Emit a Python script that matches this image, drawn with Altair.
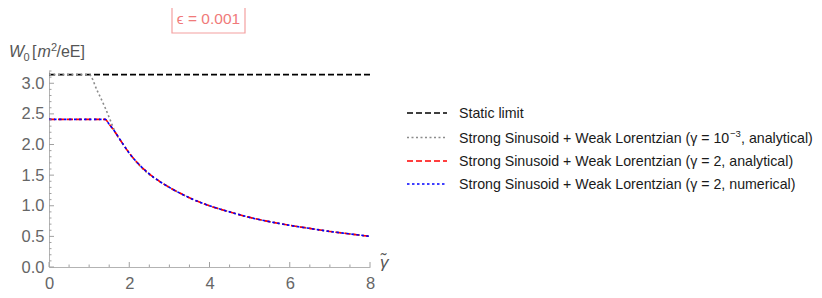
import altair as alt
import pandas as pd

# ---- data ----
static_x = [0.0, 8.0]
static_y = [3.14159, 3.14159]

gray_x = [0.0, 1.0, 1.2, 1.4, 1.55, 1.65, 1.8, 2.0, 2.25, 2.5, 2.75, 3.0, 3.5, 4.0, 4.5, 5.0, 5.5, 6.0, 6.5, 7.0, 7.5, 8.0]
gray_y = [3.14159, 3.14159, 2.88, 2.60, 2.36, 2.20, 2.05, 1.86, 1.66, 1.51, 1.40, 1.30, 1.13, 1.00, 0.90, 0.81, 0.74, 0.68, 0.63, 0.58, 0.54, 0.50]

red_x = [0.0, 1.40, 1.5, 1.65, 1.8, 2.0, 2.25, 2.5, 2.75, 3.0, 3.5, 4.0, 4.5, 5.0, 5.5, 6.0, 6.5, 7.0, 7.5, 8.0]
red_y = [2.41, 2.41, 2.33, 2.20, 2.05, 1.86, 1.67, 1.52, 1.40, 1.30, 1.13, 1.00, 0.90, 0.81, 0.74, 0.68, 0.63, 0.58, 0.54, 0.50]

blue_x = red_x
blue_y = red_y

x_major = [0, 2, 4, 6, 8]
x_minor = [0.5, 1, 1.5, 2.5, 3, 3.5, 4.5, 5, 5.5, 6.5, 7, 7.5]
y_major = [0.0, 0.5, 1.0, 1.5, 2.0, 2.5, 3.0]
y_minor = [v / 10 for v in range(0, 33) if v % 5 != 0]

legend_labels = [
    ["Static limit"],
    ["Strong Sinusoid + Weak Lorentzian (\u03b3 = 10", "\u22123", ", analytical)"],
    ["Strong Sinusoid + Weak Lorentzian (\u03b3 = 2, analytical)"],
    ["Strong Sinusoid + Weak Lorentzian (\u03b3 = 2, numerical)"],
]
legend_colors = ["#000000", "#8c8c8c", "#ff0000", "#0000ff"]
legend_dashes = [[6, 3], [2, 2.5], [6, 3], [2.5, 2.5]]

# ---- layout ----
W, H = 321, 196
FONT = "Liberation Sans"
LABEL_COLOR = "#666666"

xaxis = alt.Axis(values=x_major, format="d", title=None, ticks=False, grid=False,
                 labelFontSize=16.5, labelColor=LABEL_COLOR, labelFont=FONT,
                 domainColor="#b3b3b3", labelPadding=8, labelFlush=False)
yaxis = alt.Axis(values=y_major, format=".1f", title=None, ticks=False, grid=False,
                 labelFontSize=16.5, labelColor=LABEL_COLOR, labelFont=FONT,
                 domainColor="#b3b3b3", labelPadding=5, labelFlush=False)
xs = alt.Scale(domain=[0, 8], nice=False, zero=False)
ys = alt.Scale(domain=[0, 3.2], nice=False, zero=False)


def line(xv, yv, color, dash, width=1.6, interp="linear"):
    df = pd.DataFrame({"x": xv, "y": yv})
    return alt.Chart(df).mark_line(color=color, strokeDash=dash, strokeWidth=width,
                                   clip=True, interpolate=interp).encode(
        x=alt.X("x:Q", scale=xs, axis=xaxis),
        y=alt.Y("y:Q", scale=ys, axis=yaxis),
    )


layers = []
layers.append(line(static_x, static_y, legend_colors[0], legend_dashes[0]))
layers.append(line(gray_x, gray_y, legend_colors[1], legend_dashes[1], interp="monotone"))
layers.append(line(red_x, red_y, legend_colors[2], legend_dashes[2], interp="monotone"))
layers.append(line(blue_x, blue_y, legend_colors[3], legend_dashes[3], interp="monotone"))


# inward ticks
def xticks(vals, length):
    return alt.Chart(pd.DataFrame({"t": vals})).mark_rule(color="#a0a0a0", strokeWidth=1).encode(
        x=alt.X("t:Q", scale=xs, axis=xaxis), y=alt.value(H), y2=alt.value(H - length))


def yticks(vals, length):
    return alt.Chart(pd.DataFrame({"t": vals})).mark_rule(color="#a0a0a0", strokeWidth=1).encode(
        y=alt.Y("t:Q", scale=ys, axis=yaxis), x=alt.value(0), x2=alt.value(length))


layers += [xticks(x_major, 5), xticks(x_minor, 2.5), yticks(y_major, 5), yticks(y_minor, 2.5)]


def text(s, x, y, size=15, color=LABEL_COLOR, style="normal", align="left", baseline="alphabetic"):
    return alt.Chart(pd.DataFrame({"a": [0]})).mark_text(
        text=s, font=FONT, fontSize=size, color=color, fontStyle=style, align=align, baseline=baseline
    ).encode(x=alt.value(x), y=alt.value(y))


# y-axis title: W_0 [m^2/eE]
title_color = "#555555"
tx = -40
layers += [
    text("W", tx, -14, 16, title_color, "italic"),
    text("0", tx + 14.5, -10, 11, title_color),
    text("[", tx + 23, -14, 16, title_color),
    text("m", tx + 28.5, -14, 16, title_color, "italic"),
    text("2", tx + 42, -20, 11, title_color),
    text("/eE]", tx + 47.5, -14, 16, title_color),
]

# x-axis title
layers.append(text("\u03b3\u0303", 331, 197, 17, title_color, "italic"))

# epsilon box
layers.append(alt.Chart(pd.DataFrame({"a": [0]})).mark_rect(
    fill="white", stroke="#f4a0a0", strokeWidth=1.2
).encode(x=alt.value(123), x2=alt.value(196), y=alt.value(-66), y2=alt.value(-38)))
layers.append(text("\u03f5 = 0.001", 159.5, -52, 15.5, "#f07a7a", align="center", baseline="middle"))

# legend
row_y = [42, 66.5, 90, 113]
LEG_FS = 14.2
for parts, col, dash, yy in zip(legend_labels, legend_colors, legend_dashes, row_y):
    layers.append(alt.Chart(pd.DataFrame({"a": [0]})).mark_rule(
        color=col, strokeDash=dash, strokeWidth=1.6
    ).encode(x=alt.value(358), x2=alt.value(398), y=alt.value(yy)))
    layers.append(text(parts[0], 410, yy + 5, LEG_FS, "#1a1a1a"))
    if len(parts) > 1:
        layers.append(text(parts[1], 681, yy - 0.5, 9.5, "#1a1a1a"))
        layers.append(text(parts[2], 692, yy + 5, LEG_FS, "#1a1a1a"))

chart = alt.layer(*layers).properties(
    width=W, height=H,
    autosize=alt.AutoSizeParams(type="none"),
    padding={"left": 41, "top": 63, "right": 444, "bottom": 23},
).configure_view(stroke=None).configure_axis(labelFont=FONT)

chart.save("out.html", embed_options={"renderer": "svg", "actions": False})
